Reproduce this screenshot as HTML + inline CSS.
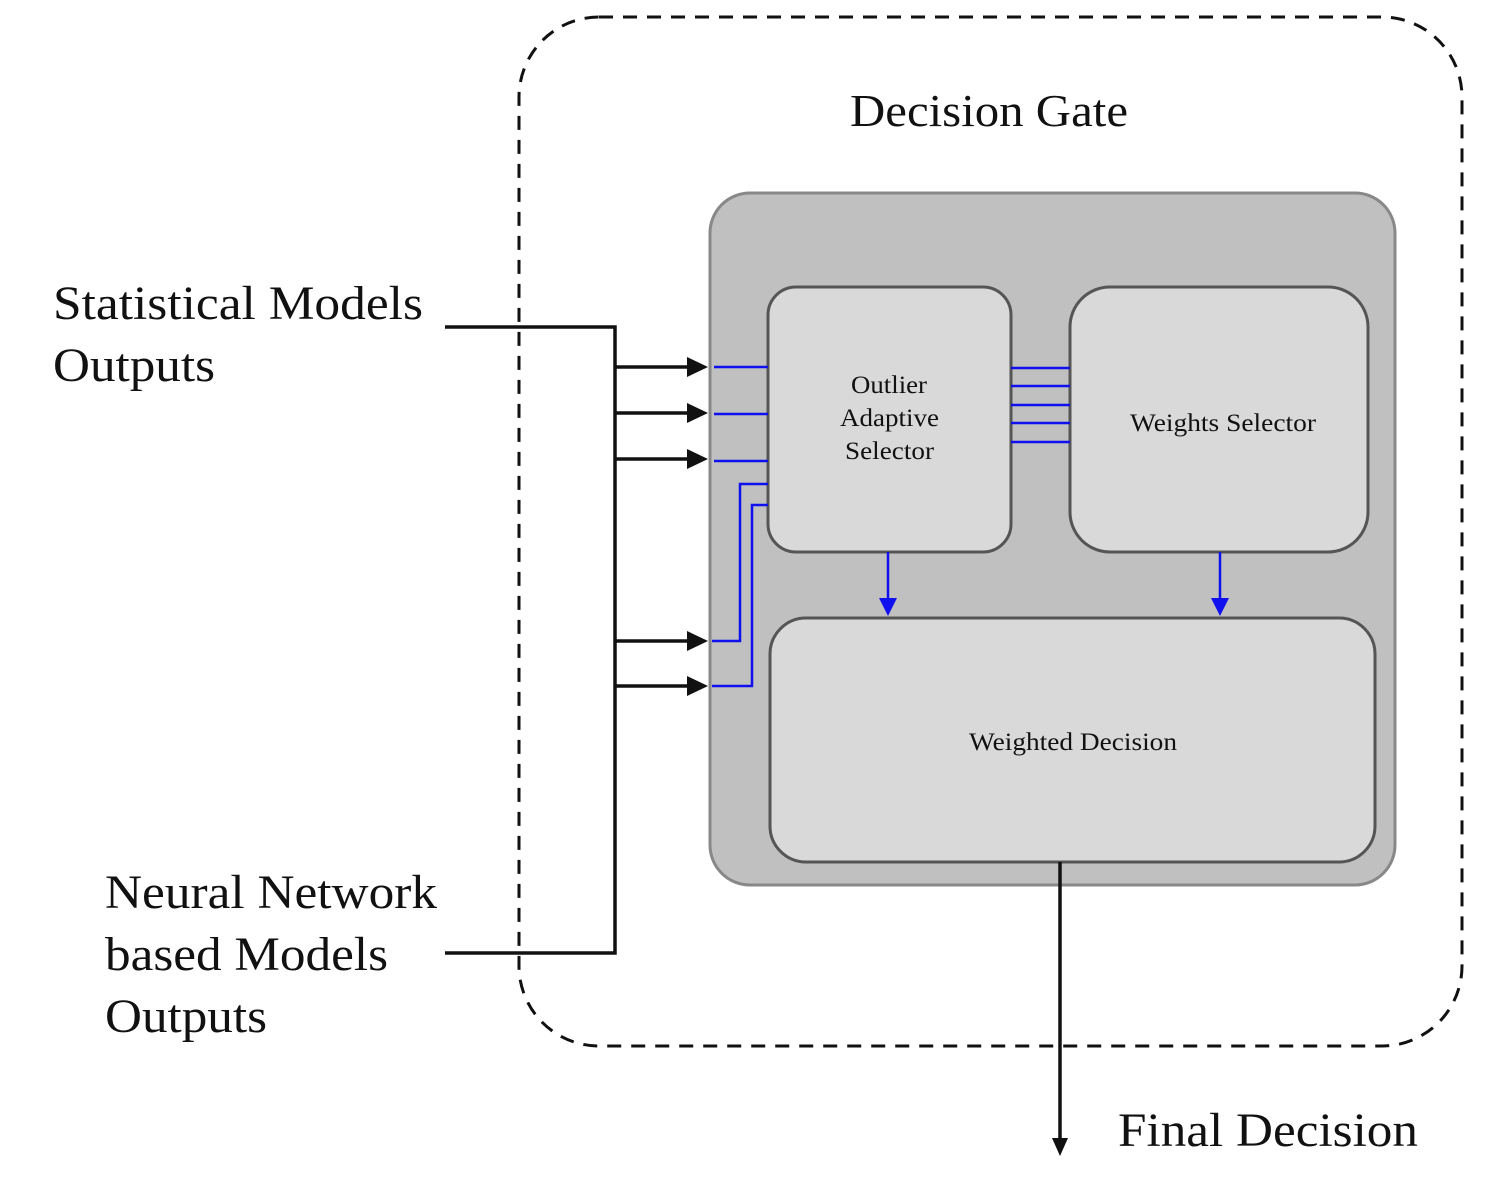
<!DOCTYPE html>
<html><head><meta charset="utf-8"><style>body{margin:0;background:#fff}svg{display:block}</style></head>
<body>
<svg width="1504" height="1180" viewBox="0 0 1504 1180" xmlns="http://www.w3.org/2000/svg" font-family="Liberation Serif, serif">
<rect x="519" y="17" width="943" height="1029" rx="80" fill="none" stroke="#111" stroke-width="3" stroke-dasharray="14,10"/>
<text x="850" y="126" font-size="46" textLength="278" lengthAdjust="spacingAndGlyphs" fill="#111">Decision Gate</text>
<rect x="710" y="193" width="685" height="692" rx="40" fill="#c0c0c0" stroke="#888" stroke-width="3"/>
<rect x="768" y="287" width="243" height="265" rx="28" fill="#d9d9d9" stroke="#555" stroke-width="3"/>
<rect x="1070" y="287" width="298" height="265" rx="40" fill="#d9d9d9" stroke="#555" stroke-width="3"/>
<rect x="770" y="618" width="605" height="244" rx="36" fill="#d9d9d9" stroke="#555" stroke-width="3"/>
<g font-size="25" fill="#111" lengthAdjust="spacingAndGlyphs">
<text x="851" y="393" textLength="76" lengthAdjust="spacingAndGlyphs">Outlier</text>
<text x="840" y="426" textLength="99" lengthAdjust="spacingAndGlyphs">Adaptive</text>
<text x="845" y="459" textLength="89" lengthAdjust="spacingAndGlyphs">Selector</text>
<text x="1130" y="431" textLength="186" lengthAdjust="spacingAndGlyphs">Weights Selector</text>
<text x="969" y="750" textLength="208" lengthAdjust="spacingAndGlyphs">Weighted Decision</text>
</g>
<g stroke="#1010ee" stroke-width="2.5" fill="none">
<line x1="714" y1="367" x2="768" y2="367"/>
<line x1="714" y1="414" x2="768" y2="414"/>
<line x1="714" y1="461" x2="768" y2="461"/>
<polyline points="768,484 740,484 740,641 712,641"/>
<polyline points="768,505 752,505 752,686 712,686"/>
<line x1="1011" y1="368" x2="1070" y2="368"/>
<line x1="1011" y1="386" x2="1070" y2="386"/>
<line x1="1011" y1="405" x2="1070" y2="405"/>
<line x1="1011" y1="423" x2="1070" y2="423"/>
<line x1="1011" y1="442" x2="1070" y2="442"/>
<line x1="888" y1="552" x2="888" y2="600"/>
<line x1="1220" y1="552" x2="1220" y2="600"/>
</g>
<polygon points="879,598 897,598 888,616" fill="#1010ee"/>
<polygon points="1211,598 1229,598 1220,616" fill="#1010ee"/>
<g stroke="#111" stroke-width="3.5" fill="none">
<polyline points="445,327 615,327 615,953 445,953"/>
<line x1="615" y1="367" x2="690" y2="367"/>
<line x1="615" y1="413" x2="690" y2="413"/>
<line x1="615" y1="459" x2="690" y2="459"/>
<line x1="615" y1="641" x2="690" y2="641"/>
<line x1="615" y1="686" x2="690" y2="686"/>
<line x1="1060" y1="862" x2="1060" y2="1140"/>
</g>
<g fill="#111">
<polygon points="687,357 708,367 687,377"/>
<polygon points="687,403 708,413 687,423"/>
<polygon points="687,449 708,459 687,469"/>
<polygon points="687,631 708,641 687,651"/>
<polygon points="687,676 708,686 687,696"/>
<polygon points="1052,1138 1068,1138 1060,1156"/>
</g>
<g font-size="48" fill="#111">
<text x="53" y="319" textLength="370" lengthAdjust="spacingAndGlyphs">Statistical Models</text>
<text x="53" y="381" textLength="162" lengthAdjust="spacingAndGlyphs">Outputs</text>
<text x="105" y="908" textLength="332" lengthAdjust="spacingAndGlyphs">Neural Network</text>
<text x="105" y="970" textLength="283" lengthAdjust="spacingAndGlyphs">based Models</text>
<text x="105" y="1032" textLength="162" lengthAdjust="spacingAndGlyphs">Outputs</text>
<text x="1118" y="1146" textLength="300" lengthAdjust="spacingAndGlyphs">Final Decision</text>
</g>
</svg>
</body></html>
